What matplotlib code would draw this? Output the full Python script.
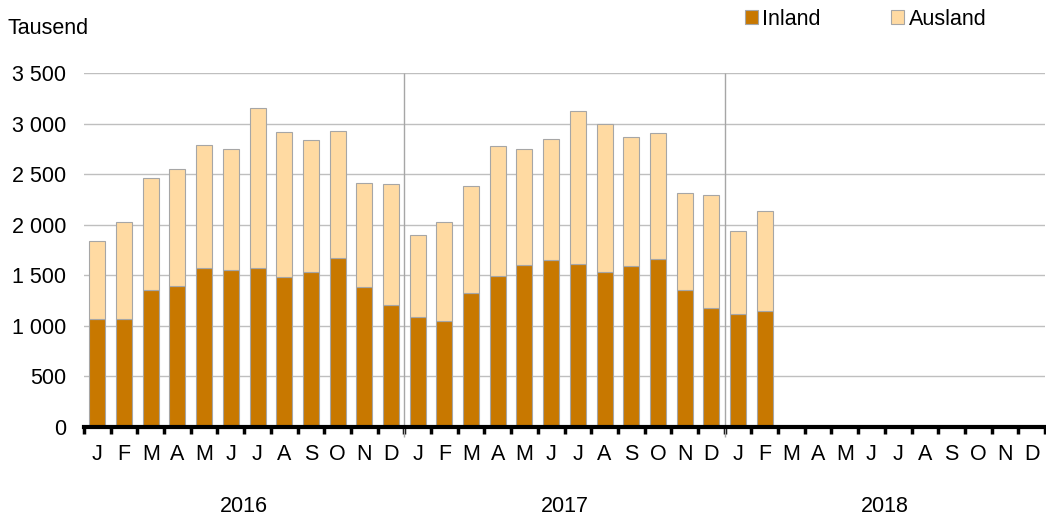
import numpy as np
import matplotlib
matplotlib.use("Agg")
import matplotlib.pyplot as plt

plt.rcParams['font.family'] = ['Liberation Sans', 'DejaVu Sans']

# Monatsbuchstaben und Jahre
months = ["J", "F", "M", "A", "M", "J", "J", "A", "S", "O", "N", "D"]
years = ["2016", "2017", "2018"]

# Werte in Tausend (Jan 2016 - Feb 2018)
inland = [1069, 1066, 1356, 1393, 1571, 1551, 1574, 1479, 1531, 1667, 1383, 1205,
          1086, 1046, 1327, 1495, 1597, 1647, 1611, 1528, 1594, 1660, 1356, 1175,
          1122, 1149]
ausland = [773, 957, 1106, 1158, 1217, 1198, 1580, 1438, 1307, 1260, 1029, 1198,
           808, 980, 1056, 1283, 1152, 1200, 1513, 1468, 1273, 1247, 958, 1119,
           815, 987]

c_inland = "#C87800"
c_ausland = "#FFDAA2"
edge = "#A6A6A6"
fs = 15.5

fig = plt.figure(figsize=(10.46, 5.21), dpi=100)
ax = fig.add_axes([84 / 1046, 1 - 427 / 521, 961 / 1046, 354 / 521])

n_all = len(months) * len(years)
x = np.arange(len(inland))
ax.bar(x, inland, width=0.6, color=c_inland, edgecolor=edge, linewidth=0.8,
       label="Inland", zorder=3)
ax.bar(x, ausland, bottom=inland, width=0.6, color=c_ausland, edgecolor=edge,
       linewidth=0.8, label="Ausland", zorder=3)

ax.set_xlim(-0.5, n_all - 0.5)
ax.set_ylim(0, 3500)

# y-Achse
yt = np.arange(0, 3501, 500)
ax.set_yticks(yt)
ax.set_yticklabels([f"{v:,}".replace(",", " ") for v in yt], fontsize=fs)
ax.tick_params(axis="y", length=0, pad=13)
ax.grid(axis="y", color="#BFBFBF", linewidth=1, zorder=0)

# x-Achse
ax.set_xticks(np.arange(n_all))
ax.set_xticklabels(months * len(years), fontsize=fs)
ax.set_xticks(np.arange(n_all + 1) - 0.5, minor=True)
ax.tick_params(axis="x", which="major", length=0, pad=12)
ax.tick_params(axis="x", which="minor", length=5, width=2.5, color="black")

for s in ["left", "right", "top"]:
    ax.spines[s].set_visible(False)
ax.spines["bottom"].set_linewidth(3)
ax.spines["bottom"].set_zorder(5)

# Jahrestrenner
for k in range(1, len(years)):
    ax.vlines(k * 12 - 0.5, -100, 3500, color="#A6A6A6", linewidth=1,
              clip_on=False, zorder=4)

# Jahreslabels
for k, yr in enumerate(years):
    ax.text(k * 12 + 5.5, -790, yr, ha="center", va="center", fontsize=fs)

fig.text(8 / 1046, 1 - 28 / 521, "Tausend", ha="left", va="center", fontsize=fs)

ax.legend(loc="upper left", bbox_to_anchor=(736 / 1046, 1.0), bbox_transform=fig.transFigure,
          ncol=2, frameon=False, fontsize=fs, handlelength=0.6, handleheight=0.6,
          handletextpad=0.2, columnspacing=3.3, borderaxespad=0.0)

fig.savefig("out.png", dpi=100)
